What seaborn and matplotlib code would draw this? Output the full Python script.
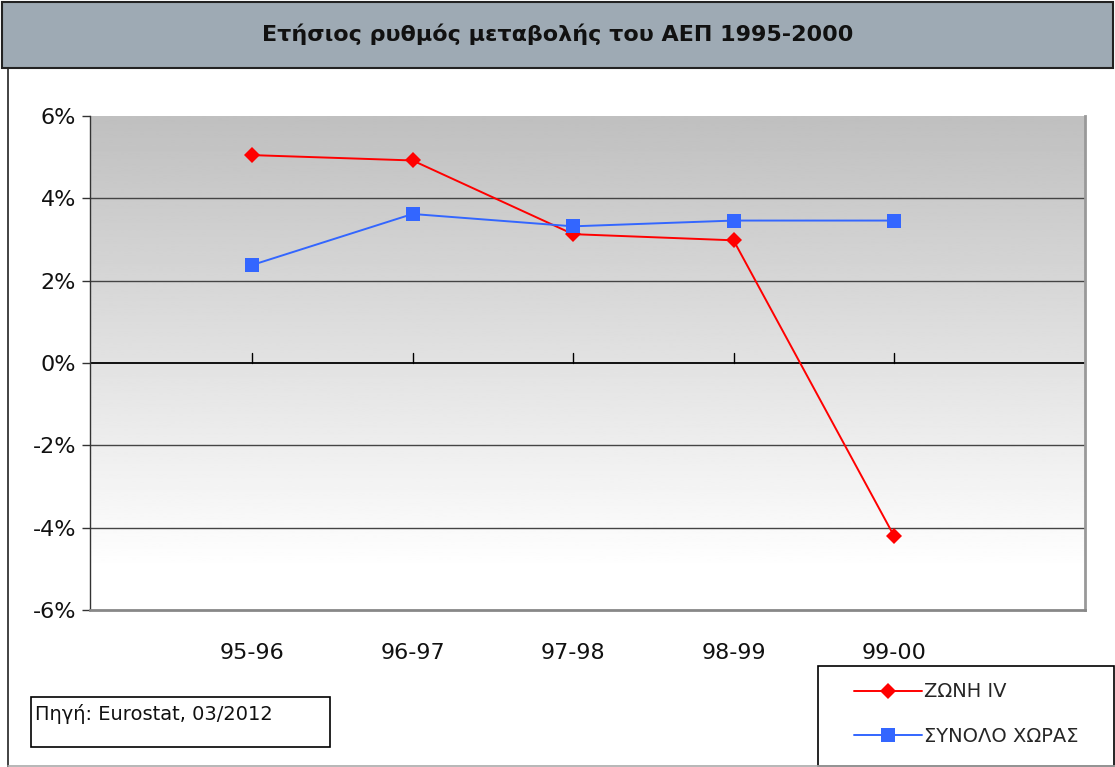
import numpy as np
import pandas as pd
import seaborn as sns
import matplotlib.pyplot as plt
from matplotlib.patches import Rectangle
from matplotlib.ticker import FuncFormatter

periods = ["95-96", "96-97", "97-98", "98-99", "99-00"]
zone_iv = [5.05, 4.92, 3.13, 2.98, -4.2]
total_country = [2.38, 3.62, 3.32, 3.46, 3.46]
series_names = ["ΖΩΝΗ IV", "ΣΥΝΟΛΟ ΧΩΡΑΣ"]

df = pd.DataFrame({
    "period": list(range(len(periods))) * 2,
    "value": zone_iv + total_country,
    "series": [series_names[0]] * len(periods) + [series_names[1]] * len(periods),
})

sns.set_style("white")
plt.rcParams['font.family'] = ['DejaVu Sans']

fig = plt.figure(figsize=(11.15, 7.67), dpi=100)
W, H = 1115, 767

# title band
fig.patches.append(Rectangle((2 / W, 1 - 68 / H), 1111 / W, 66 / H, transform=fig.transFigure,
                             facecolor="#9eaab4", edgecolor="#222222", linewidth=1.5, zorder=0))
# outer frame lines
fig.lines.append(plt.Line2D([8 / W, 8 / W], [0, 1 - 68 / H], transform=fig.transFigure,
                            color="#222222", linewidth=1.2))
fig.lines.append(plt.Line2D([8 / W, 1], [1.5 / H, 1.5 / H], transform=fig.transFigure,
                            color="#aaaaaa", linewidth=1.2))
fig.text(0.5, 1 - 34 / H, "Ετήσιος ρυθμός μεταβολής του ΑΕΠ 1995-2000", ha="center", va="center",
         fontsize=16, fontweight="bold", color="#111111")

ax = fig.add_axes([90 / W, 1 - 610 / H, 995 / W, 494 / H])
x0, x1 = -1.01, 5.19

# gradient background: grey at top fading to white near -5%
grad = np.linspace(0.75, 1.0, 256).reshape(-1, 1)
ax.imshow(grad, extent=(x0, x1, -5, 6), cmap="gray", vmin=0, vmax=1, aspect="auto",
          origin="upper", zorder=0, interpolation="bilinear")
ax.set_xlim(x0, x1)
ax.set_ylim(-6, 6)

for y in [4, 2, -2, -4]:
    ax.axhline(y, color="#444444", linewidth=1.0, zorder=1)
ax.axhline(0, color="black", linewidth=1.3, zorder=2)
for i in range(len(periods)):
    ax.plot([i, i], [0, 0.25], color="black", linewidth=1.0, zorder=2)

sns.lineplot(data=df, x="period", y="value", hue="series", style="series",
             palette=["#ff0000", "#3366ff"], markers=["D", "s"], dashes=False,
             markersize=9, markeredgewidth=0, linewidth=1.4, legend=False, ax=ax, zorder=3)
for ln, ms in zip(ax.lines[-2:], [8.5, 10]):
    ln.set_markersize(ms)

ax.set_xticks([])
ax.set_yticks(np.arange(-6, 7, 2))
ax.yaxis.set_major_formatter(FuncFormatter(lambda v, p: f"{int(v)}%"))
ax.tick_params(axis="y", direction="out", length=6, width=1, color="#333333", labelsize=16,
               labelcolor="#111111", pad=4, left=True)
ax.set_xlabel("")
ax.set_ylabel("")
ax.spines["top"].set_visible(False)
ax.spines["left"].set_color("#333333")
ax.spines["left"].set_linewidth(1.0)
ax.spines["right"].set_color("#999999")
ax.spines["right"].set_linewidth(2)
ax.spines["bottom"].set_color("#888888")
ax.spines["bottom"].set_linewidth(2)

for i, lab in enumerate(periods):
    ax.text(i, -7.05, lab, ha="center", va="center", fontsize=16, color="#111111")

# source box
fig.patches.append(Rectangle((31 / W, 1 - 747 / H), 299 / W, 50 / H, transform=fig.transFigure,
                             facecolor="white", edgecolor="black", linewidth=1.2))
fig.text(35 / W, 1 - 714 / H, "Πηγή: Eurostat, 03/2012", ha="left", va="center", fontsize=14,
         color="#111111")

# legend box
fig.patches.append(Rectangle((818 / W, 0.001), 296 / W, 100 / H, transform=fig.transFigure,
                             facecolor="white", edgecolor="black", linewidth=1.2))
handles = [plt.Line2D([], [], color="#ff0000", marker="D", markersize=8.5, markeredgewidth=0, linewidth=1.4),
           plt.Line2D([], [], color="#3366ff", marker="s", markersize=10, markeredgewidth=0, linewidth=1.4)]
fig.legend(handles, series_names, loc="center left", bbox_to_anchor=(836 / W, 1 - 714 / H),
           frameon=False, fontsize=14, handlelength=3.5, handletextpad=0.15, labelspacing=1.3)

fig.savefig("out.png", dpi=100)
